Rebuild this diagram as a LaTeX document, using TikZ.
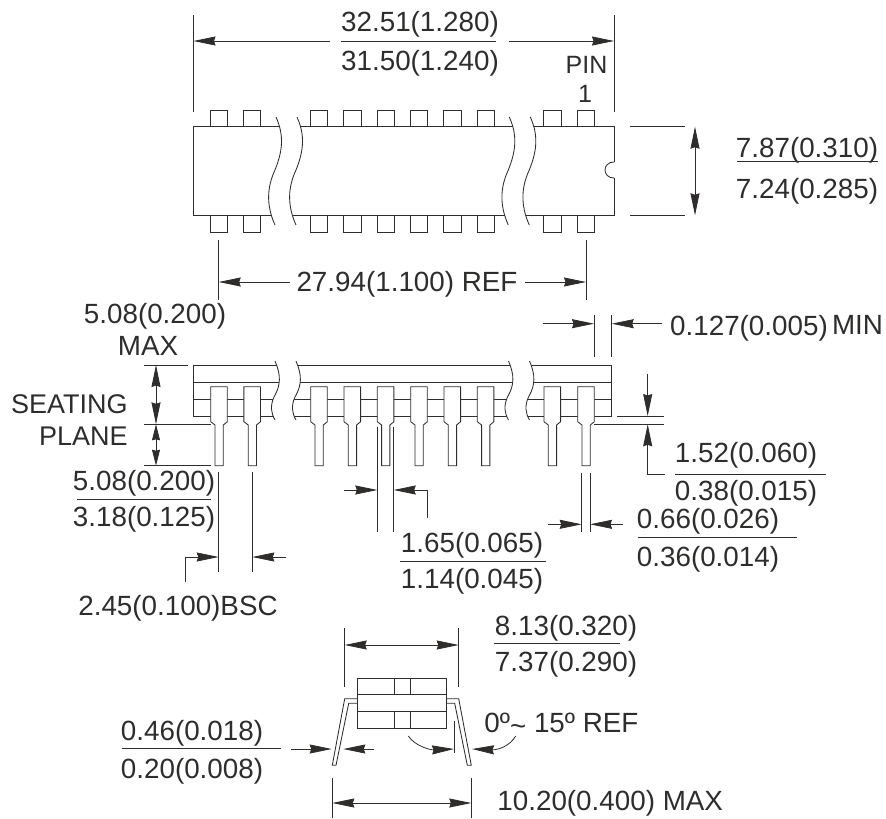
\documentclass[tikz,border=0pt]{standalone}
\usepackage{fontspec}
\setmainfont{Liberation Sans}
\usetikzlibrary{arrows.meta}
\definecolor{inkc}{HTML}{2E2D2C}
\newcommand{\topbreak}[1]{
	\fill[white,xshift=#1pt] (276,117) .. controls (284,135) and (283,150) .. (275,170) .. controls (267,187) and (266,205) .. (275,225) -- (296,225) .. controls (287,205) and (288,187) .. (296,170) .. controls (304,150) and (305,135) .. (297,117) -- cycle;
	\draw[xshift=#1pt] (276,117) .. controls (284,135) and (283,150) .. (275,170) .. controls (267,187) and (266,205) .. (275,225);
	\draw[xshift=#1pt] (297,117) .. controls (305,135) and (304,150) .. (296,170) .. controls (288,187) and (287,205) .. (296,225);
}
\newcommand{\sidebreak}[1]{
	\fill[white,xshift=#1pt] (275,361) .. controls (281,375) and (281,385) .. (274,397) .. controls (270,406) and (271,413) .. (275,420) -- (296,420) .. controls (292,413) and (291,406) .. (295,397) .. controls (302,385) and (302,375) .. (296,361) -- cycle;
	\draw[xshift=#1pt] (275,361) .. controls (281,375) and (281,385) .. (274,397) .. controls (270,406) and (271,413) .. (275,420);
	\draw[xshift=#1pt] (296,361) .. controls (302,375) and (302,385) .. (295,397) .. controls (291,406) and (292,413) .. (296,420);
}
\begin{document}
\begin{tikzpicture}[x=1pt,y=-1pt,line width=0.85pt,color=inkc]
		\tikzstyle{dimlabel}=[inner sep=0pt, text height=20pt, text depth=0pt, font=\fontsize{27.8}{28}\selectfont]
		\tikzstyle{pinlabel}=[inner sep=0pt, text height=17pt, text depth=0pt, font=\fontsize{25}{26}\selectfont]
		\tikzstyle{seatlabel}=[inner sep=0pt, anchor=east, text height=20pt, text depth=0pt, font=\fontsize{27}{28}\selectfont]
		\tikzstyle{dim}=[line width=0.8pt, >={Stealth[length=22pt,width=9pt,inset=1.5pt]}]
		\tikzstyle{smalldim}=[line width=0.8pt, >={Stealth[length=16pt,width=8pt,inset=1pt]}]
		\useasboundingbox (0,0) rectangle (886,819);
		
		% Top view
		\draw[] (193.5,126.7) rectangle (614,215.3);
		\foreach \px in {210,243.4,310.4,343.8,377,410.4,443.8,477,543.8,577.4}{
			\draw[] (\px,110) rectangle (\px+17.4,126.7);
			\draw[] (\px,215.3) rectangle (\px+17.4,232);
		}
		\topbreak{0}
		\topbreak{233.3}
		\fill[white] (612,162.4) rectangle (615,177.6);
		\draw[] (614,162) .. controls (602,162) and (602,178) .. (614,178);
		
		% Length
		\draw[] (193.5,15) -- (193.5,112);
		\draw[] (614,15) -- (614,112);
		\draw[dim,<-] (193.5,41) -- (330,41);
		\draw[dim,->] (509,41) -- (614,41);
		\draw[dim] (341,41) -- (496,41);
		\node[dimlabel] (lenmax) at (420,21) {32.51(1.280)};
		\node[dimlabel] (lenmin) at (420,60) {31.50(1.240)};
		\node[pinlabel] (pinword) at (586.5,65) {PIN};
		\node[pinlabel] (pinone) at (585,94) {1};
		
		% Width
		\draw[] (630,126.7) -- (685,126.7);
		\draw[] (630,215.3) -- (685,215.3);
		\draw[dim,<->] (695,126.7) -- (695,215.3);
		\draw[dim] (737,161) -- (878,161);
		\node[dimlabel] (widmax) at (807,147) {7.87(0.310)};
		\node[dimlabel] (widmin) at (807,188) {7.24(0.285)};
		
		% Pin span
		\draw[] (218.7,240) -- (218.7,300);
		\draw[] (586,240) -- (586,300);
		\draw[dim,<-] (218.7,282) -- (290,282);
		\draw[dim,->] (525,282) -- (586,282);
		\node[dimlabel] (spanref) at (407,281) {27.94(1.100) REF};
		
		% Side view
		\draw[] (193.7,365) -- (611.7,365) -- (611.7,416) -- (193.7,416) -- cycle;
		\draw[] (193.7,382.3) -- (611.7,382.3);
		\draw[] (193.7,399) -- (611.7,399);
		\sidebreak{0}
		\sidebreak{233.5}
		\foreach \px in {210.7,243.9,310.7,344,377.3,410.7,444,477.3,544,577.7}{
			\draw[fill=white] (\px,386.7) -- (\px+16.6,386.7) -- (\px+16.6,421.7) -- (\px+12.6,425) -- (\px+12.6,465.7) -- (\px+4.3,465.7) -- (\px+4.3,425) -- (\px,421.7) -- cycle;
		}
		
		% Seating plane
		\draw[] (144,365) -- (187.7,365);
		\draw[] (144,424.3) -- (210.7,424.3);
		\draw[] (144,465.7) -- (210.7,465.7);
		\draw[dim,<->] (156,365) -- (156,424.3);
		\draw[smalldim,<->] (156,424.3) -- (156,465.7);
		\node[dimlabel] (maxval) at (155,313) {5.08(0.200)};
		\node[dimlabel] (maxword) at (148,345) {MAX};
		\node[seatlabel] (seatword) at (128,403) {SEATING};
		\node[seatlabel] (planeword) at (128,435) {PLANE};
		\draw[dim] (77,499.3) -- (210.7,499.3);
		\node[dimlabel] (seatmax) at (144,480) {5.08(0.200)};
		\node[dimlabel] (seatmin) at (144,516) {3.18(0.125)};
		
		% Pitch
		\draw[] (218.7,471.7) -- (218.7,571.7);
		\draw[] (252.3,471.7) -- (252.3,571.7);
		\draw[dim,->] (185,582) -- (185,557) -- (218.7,557);
		\draw[dim,->] (285.7,557) -- (252.3,557);
		\node[dimlabel] (pitchval) at (178,605) {2.45(0.100)BSC};
		
		% Pin width
		\draw[] (377.3,426.7) -- (377.3,532);
		\draw[] (393.7,426.7) -- (393.7,532);
		\draw[dim,->] (344,490) -- (377.3,490);
		\draw[dim,->] (427.3,518) -- (427.3,490) -- (393.7,490);
		\draw[dim] (400,561.7) -- (546,561.7);
		\node[dimlabel] (pinmax) at (472,542) {1.65(0.065)};
		\node[dimlabel] (pinmin) at (472,578) {1.14(0.045)};
		
		% Overhang
		\draw[] (594,315) -- (594,356.7);
		\draw[] (611.7,315) -- (611.7,356.7);
		\draw[dim,->] (542.7,323.7) -- (594,323.7);
		\draw[dim,->] (662,323.7) -- (611.7,323.7);
		\node[dimlabel] (overval) at (749,325) {0.127(0.005)};
		\node[dimlabel] (overword) at (857.5,324) {MIN};
		
		% Standoff
		\draw[] (616.7,416) -- (664,416);
		\draw[] (594,424.3) -- (664,424.3);
		\draw[dim,->] (647.7,374.3) -- (647.7,416);
		\draw[dim,->] (665,474) -- (647.7,474) -- (647.7,424.3);
		\draw[dim] (675,474) -- (826,474);
		\node[dimlabel] (offmax) at (746,452) {1.52(0.060)};
		\node[dimlabel] (offmin) at (746,490) {0.38(0.015)};
		
		% Tail width
		\draw[] (581.7,472.7) -- (581.7,532);
		\draw[] (590,472.7) -- (590,532);
		\draw[dim,->] (548,524.3) -- (581.7,524.3);
		\draw[dim,->] (623,524.3) -- (590,524.3);
		\draw[dim] (637.7,537.3) -- (796.7,537.3);
		\node[dimlabel] (tailmax) at (708,518) {0.66(0.026)};
		\node[dimlabel] (tailmin) at (708,556.7) {0.36(0.014)};
		
		% End view
		\draw[] (357.3,678) rectangle (446,728);
		\draw[] (357.3,694.7) -- (446,694.7);
		\draw[] (357.3,711.3) -- (446,711.3);
		\draw[] (394,678) -- (394,694.7);
		\draw[] (410.7,678) -- (410.7,694.7);
		\draw[] (394,711.3) -- (394,728);
		\draw[] (410.7,711.3) -- (410.7,728);
		\draw[] (357.3,698.7) -- (344.7,698.7) -- (332.3,765.3) -- (336,765.3) -- (348.7,703.3) -- (357.3,703.3);
		\draw[] (446,698.7) -- (458.7,698.7) -- (471.3,765.3) -- (467.3,765.3) -- (454.7,703.3) -- (446,703.3);
		
		% Row spacing
		\draw[] (344.7,628) -- (344.7,686.7);
		\draw[] (458.7,628) -- (458.7,686.7);
		\draw[dim,<->] (344.7,645) -- (458.7,645);
		\draw[dim] (494,643.3) -- (620,643.3);
		\node[dimlabel] (rowmax) at (566,625) {8.13(0.320)};
		\node[dimlabel] (rowmin) at (566,661.7) {7.37(0.290)};
		
		% Lead thickness
		\draw[dim,->] (291,749) -- (331.7,749);
		\draw[dim,->] (374,749) -- (343.3,749);
		\draw[dim] (121.5,748.3) -- (280.5,748.3);
		\node[dimlabel] (leadmax) at (192,730) {0.46(0.018)};
		\node[dimlabel] (leadmin) at (192,768) {0.20(0.008)};
		
		% Angle
		\draw[] (454.3,720.7) -- (454.3,753.3);
		\draw[dim,->] (408.3,736) .. controls (415,746) and (430,750) .. (454,749);
		\draw[dim,->] (515.7,736) .. controls (510,746) and (498,750) .. (472,749);
		\node[dimlabel,anchor=west] (angleval) at (484,722.7) {0º\raisebox{-3pt}{\textasciitilde}\ 15º REF};
		
		% Lead span
		\draw[] (332.3,778.3) -- (332.3,818.3);
		\draw[] (471.3,778.3) -- (471.3,818.3);
		\draw[dim,<->] (332.3,803) -- (471.3,803);
		\node[dimlabel,anchor=west] (leadspan) at (497,800) {10.20(0.400) MAX};
\end{tikzpicture}
\end{document}
